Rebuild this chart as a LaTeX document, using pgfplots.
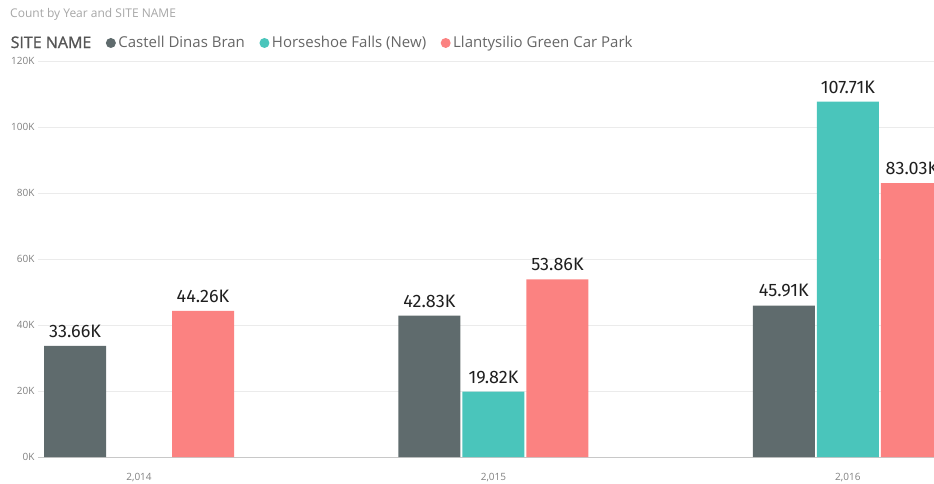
\documentclass[border=0pt]{standalone}
\usepackage{fontspec}
\setmainfont{Open Sans}
\newfontfamily\labelfont{Fira Sans}
\newfontfamily\headfont{Open Sans}[BoldFont={Open Sans}, BoldFeatures={FakeBold=1.2}]
\usepackage{pgfplots}
\pgfplotsset{compat=1.18}

\definecolor{cgray}{HTML}{5F6B6D}
\definecolor{cteal}{HTML}{4AC5BB}
\definecolor{cpink}{HTML}{FB8281}
\definecolor{gridc}{HTML}{EBEBEB}
\definecolor{basec}{HTML}{C8C8C8}
\definecolor{tickc}{HTML}{808080}
\definecolor{titlec}{HTML}{A6A6A6}
\definecolor{legc}{HTML}{666666}
\definecolor{headc}{HTML}{555555}

\begin{document}
\begin{tikzpicture}
\path[use as bounding box] (0,0) rectangle (934pt,483pt);
\node[anchor=west, text=titlec, font=\fontsize{12}{14}\selectfont, inner sep=0pt] at (10pt,469pt) {Count by Year and SITE NAME};
\begin{axis}[
  at={(38pt,26pt)}, anchor=south west,
  scale only axis, width=896pt, height=396pt,
  ybar, bar width=62pt,
  xmin=-0.285, xmax=2.243, ymin=0, ymax=120,
  xtick={0,1,2}, xticklabels={{2,014},{2,015},{2,016}},
  ytick={0,20,...,120}, yticklabels={0K,20K,40K,60K,80K,100K,120K},
  major tick length=0pt,
  tick label style={font=\fontsize{10}{12}\selectfont, text=tickc},
  xticklabel style={yshift=-13pt},
  axis x line*=bottom, axis y line*=left,
  x axis line style={draw=basec, line width=1pt},
  y axis line style={draw=none},
  ymajorgrids, grid style={draw=gridc, line width=1pt},
  /pgf/number format/assume math mode=true,
  nodes near coords={\pgfmathprintnumber[fixed,precision=2,fixed zerofill]{\pgfplotspointmeta}K},
  every node near coord/.append style={font=\labelfont\fontsize{18}{20}\selectfont, text=black!88, anchor=south, inner sep=0pt, yshift=8pt},
  legend style={at={(rel axis cs:-0.0335,1.0455)}, anchor=west, draw=none, fill=none,
    legend columns=-1, font=\fontsize{15}{17}\selectfont, text=legc, inner sep=0pt,
    nodes={inner sep=2.5pt},
    /tikz/every even column/.append style={column sep=12pt}},
  legend image code/.code={\fill[#1, draw=none] (0,0) circle (5pt);},
]
\addlegendimage{empty legend}
\addlegendentry{\headfont\bfseries\fontsize{16}{18}\selectfont\textcolor{headc}{SITE NAME}}

\addplot[fill=cgray, draw=none, bar shift=-64pt] coordinates {(0,33.66) (1,42.83) (2,45.91)};
\addlegendentry{Castell Dinas Bran}
\addplot[fill=cteal, draw=none, bar shift=0pt] coordinates {(1,19.82) (2,107.71)};
\addlegendentry{Horseshoe Falls (New)}
\addplot[fill=cpink, draw=none, bar shift=64pt] coordinates {(0,44.26) (1,53.86) (2,83.03)};
\addlegendentry{Llantysilio Green Car Park}
\end{axis}
\end{tikzpicture}
\end{document}
